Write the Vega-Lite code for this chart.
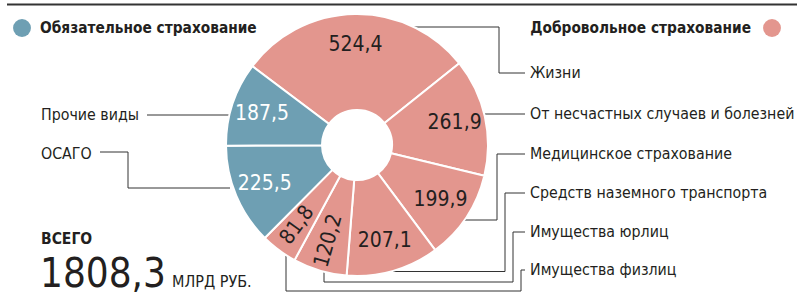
{
  "$schema": "https://vega.github.io/schema/vega-lite/v6.json",
  "width": 800,
  "height": 297,
  "padding": 0,
  "autosize": {"type": "none"},
  "background": "white",
  "config": {
    "view": {"stroke": null},
    "axis": {"disable": true},
    "font": "DejaVu Sans Condensed, sans-serif",
    "locale": {"number": {"decimal": ",", "thousands": " ", "grouping": [3], "currency": ["", ""]}}
  },
  "datasets": {
    "segments": [
      {"n": 1, "name": "Жизни", "group": "Добровольное страхование", "value": 524.4},
      {"n": 2, "name": "От несчастных случаев и болезней", "group": "Добровольное страхование", "value": 261.9},
      {"n": 3, "name": "Медицинское страхование", "group": "Добровольное страхование", "value": 199.9},
      {"n": 4, "name": "Средств наземного транспорта", "group": "Добровольное страхование", "value": 207.1},
      {"n": 5, "name": "Имущества юрлиц", "group": "Добровольное страхование", "value": 120.2},
      {"n": 6, "name": "Имущества физлиц", "group": "Добровольное страхование", "value": 81.8},
      {"n": 7, "name": "ОСАГО", "group": "Обязательное страхование", "value": 225.5},
      {"n": 8, "name": "Прочие виды", "group": "Обязательное страхование", "value": 187.5}
    ],
    "leaders": [
      {"name": "Жизни", "x": 413, "y": 27, "x2": 499, "y2": 27},
      {"name": "Жизни", "x": 499, "y": 27, "x2": 499, "y2": 73},
      {"name": "Жизни", "x": 499, "y": 73, "x2": 525, "y2": 73},
      {"name": "От несчастных случаев и болезней", "x": 485, "y": 114, "x2": 525, "y2": 114},
      {"name": "Медицинское страхование", "x": 463, "y": 220, "x2": 497, "y2": 220},
      {"name": "Медицинское страхование", "x": 497, "y": 220, "x2": 497, "y2": 154},
      {"name": "Медицинское страхование", "x": 497, "y": 154, "x2": 525, "y2": 154},
      {"name": "Средств наземного транспорта", "x": 392, "y": 271.5, "x2": 505, "y2": 271.5},
      {"name": "Средств наземного транспорта", "x": 505, "y": 271.5, "x2": 505, "y2": 193},
      {"name": "Средств наземного транспорта", "x": 505, "y": 193, "x2": 525, "y2": 193},
      {"name": "Имущества юрлиц", "x": 324, "y": 271, "x2": 324, "y2": 282},
      {"name": "Имущества юрлиц", "x": 324, "y": 282, "x2": 513, "y2": 282},
      {"name": "Имущества юрлиц", "x": 513, "y": 282, "x2": 513, "y2": 232},
      {"name": "Имущества юрлиц", "x": 513, "y": 232, "x2": 525, "y2": 232},
      {"name": "Имущества физлиц", "x": 286, "y": 256, "x2": 286, "y2": 291},
      {"name": "Имущества физлиц", "x": 286, "y": 291, "x2": 521, "y2": 291},
      {"name": "Имущества физлиц", "x": 521, "y": 291, "x2": 521, "y2": 270},
      {"name": "Имущества физлиц", "x": 521, "y": 270, "x2": 525, "y2": 270},
      {"name": "Прочие виды", "x": 147, "y": 115, "x2": 230, "y2": 115},
      {"name": "ОСАГО", "x": 100, "y": 152, "x2": 128, "y2": 152},
      {"name": "ОСАГО", "x": 128, "y": 152, "x2": 128, "y2": 188},
      {"name": "ОСАГО", "x": 128, "y": 188, "x2": 230, "y2": 188}
    ],
    "labels": [
      {"name": "Жизни", "x": 530, "y": 73},
      {"name": "От несчастных случаев и болезней", "x": 530, "y": 114},
      {"name": "Медицинское страхование", "x": 530, "y": 154},
      {"name": "Средств наземного транспорта", "x": 530, "y": 193},
      {"name": "Имущества юрлиц", "x": 530, "y": 232},
      {"name": "Имущества физлиц", "x": 530, "y": 270},
      {"name": "Прочие виды", "x": 41, "y": 115},
      {"name": "ОСАГО", "x": 41, "y": 154}
    ]
  },
  "layer": [
    {
      "data": {"values": [{"x": 7, "x2": 797, "y": 4.5}]},
      "mark": {"type": "rule", "color": "#333333", "strokeWidth": 2},
      "encoding": {
        "x": {"field": "x", "type": "quantitative", "scale": {"domain": [0, 800], "nice": false, "zero": false}},
        "x2": {"field": "x2"},
        "y": {"field": "y", "type": "quantitative", "scale": {"domain": [0, 297], "nice": false, "zero": false, "reverse": true}}
      }
    },
    {
      "data": {"name": "leaders"},
      "mark": {"type": "rule", "color": "#333333", "strokeWidth": 1},
      "encoding": {
        "x": {"field": "x", "type": "quantitative"},
        "x2": {"field": "x2"},
        "y": {"field": "y", "type": "quantitative"},
        "y2": {"field": "y2"}
      }
    },
    {
      "data": {"name": "segments"},
      "mark": {"type": "arc", "outerRadius": 131, "innerRadius": 35, "stroke": "white", "strokeWidth": 2},
      "encoding": {
        "x": {"datum": 357, "type": "quantitative"},
        "y": {"datum": 145, "type": "quantitative"},
        "theta": {"field": "value", "type": "quantitative", "stack": true, "scale": {"range": [-0.925, 5.358]}},
        "order": {"field": "n", "type": "quantitative"},
        "color": {"field": "group", "type": "nominal", "legend": null,
          "scale": {"domain": ["Обязательное страхование", "Добровольное страхование"], "range": ["#6e9fb3", "#e3968e"]}}
      }
    },
    {
      "data": {"name": "segments"},
      "mark": {"type": "text", "radius": 100, "fontSize": 21, "align": "center", "baseline": "middle"},
      "encoding": {
        "x": {"datum": 357, "type": "quantitative"},
        "y": {"datum": 145, "type": "quantitative"},
        "theta": {"field": "value", "type": "quantitative", "stack": true},
        "order": {"field": "n", "type": "quantitative"},
        "text": {"field": "value", "type": "quantitative", "format": ".1f"},
        "angle": {"condition": [
          {"test": "datum.name == 'Имущества юрлиц'", "value": -74},
          {"test": "datum.name == 'Имущества физлиц'", "value": -54}
        ], "value": 0},
        "color": {"condition": {"test": "datum.group == 'Обязательное страхование'", "value": "#ffffff"}, "value": "#231f20"}
      }
    },
    {
      "data": {"name": "labels"},
      "mark": {"type": "text", "align": "left", "baseline": "middle", "fontSize": 15.8, "color": "#231f20"},
      "encoding": {
        "x": {"field": "x", "type": "quantitative"},
        "y": {"field": "y", "type": "quantitative"},
        "text": {"field": "name"}
      }
    },
    {
      "data": {"values": [
        {"group": "Обязательное страхование", "x": 22, "y": 28},
        {"group": "Добровольное страхование", "x": 772, "y": 28}
      ]},
      "mark": {"type": "point", "filled": true, "size": 320, "opacity": 1},
      "encoding": {
        "x": {"field": "x", "type": "quantitative"},
        "y": {"field": "y", "type": "quantitative"},
        "color": {"field": "group", "type": "nominal", "legend": null}
      }
    },
    {
      "data": {"values": [{"group": "Обязательное страхование", "x": 40, "y": 28}]},
      "mark": {"type": "text", "align": "left", "baseline": "middle", "fontSize": 15.3, "fontWeight": "bold", "color": "#231f20"},
      "encoding": {
        "x": {"field": "x", "type": "quantitative"},
        "y": {"field": "y", "type": "quantitative"},
        "text": {"field": "group"}
      }
    },
    {
      "data": {"values": [{"group": "Добровольное страхование", "x": 751, "y": 28}]},
      "mark": {"type": "text", "align": "right", "baseline": "middle", "fontSize": 15.3, "fontWeight": "bold", "color": "#231f20"},
      "encoding": {
        "x": {"field": "x", "type": "quantitative"},
        "y": {"field": "y", "type": "quantitative"},
        "text": {"field": "group"}
      }
    },
    {
      "data": {"values": [{"t": "ВСЕГО", "x": 41, "y": 243.5}]},
      "mark": {"type": "text", "align": "left", "baseline": "alphabetic", "fontSize": 15.5, "fontWeight": "bold", "color": "#231f20"},
      "encoding": {
        "x": {"field": "x", "type": "quantitative"},
        "y": {"field": "y", "type": "quantitative"},
        "text": {"field": "t"}
      }
    },
    {
      "data": {"values": [{"t": "1808,3", "x": 40, "y": 287}]},
      "mark": {"type": "text", "align": "left", "baseline": "alphabetic", "fontSize": 40, "color": "#231f20"},
      "encoding": {
        "x": {"field": "x", "type": "quantitative"},
        "y": {"field": "y", "type": "quantitative"},
        "text": {"field": "t"}
      }
    },
    {
      "data": {"values": [{"t": "МЛРД РУБ.", "x": 172, "y": 287}]},
      "mark": {"type": "text", "align": "left", "baseline": "alphabetic", "fontSize": 16, "color": "#231f20"},
      "encoding": {
        "x": {"field": "x", "type": "quantitative"},
        "y": {"field": "y", "type": "quantitative"},
        "text": {"field": "t"}
      }
    }
  ]
}
